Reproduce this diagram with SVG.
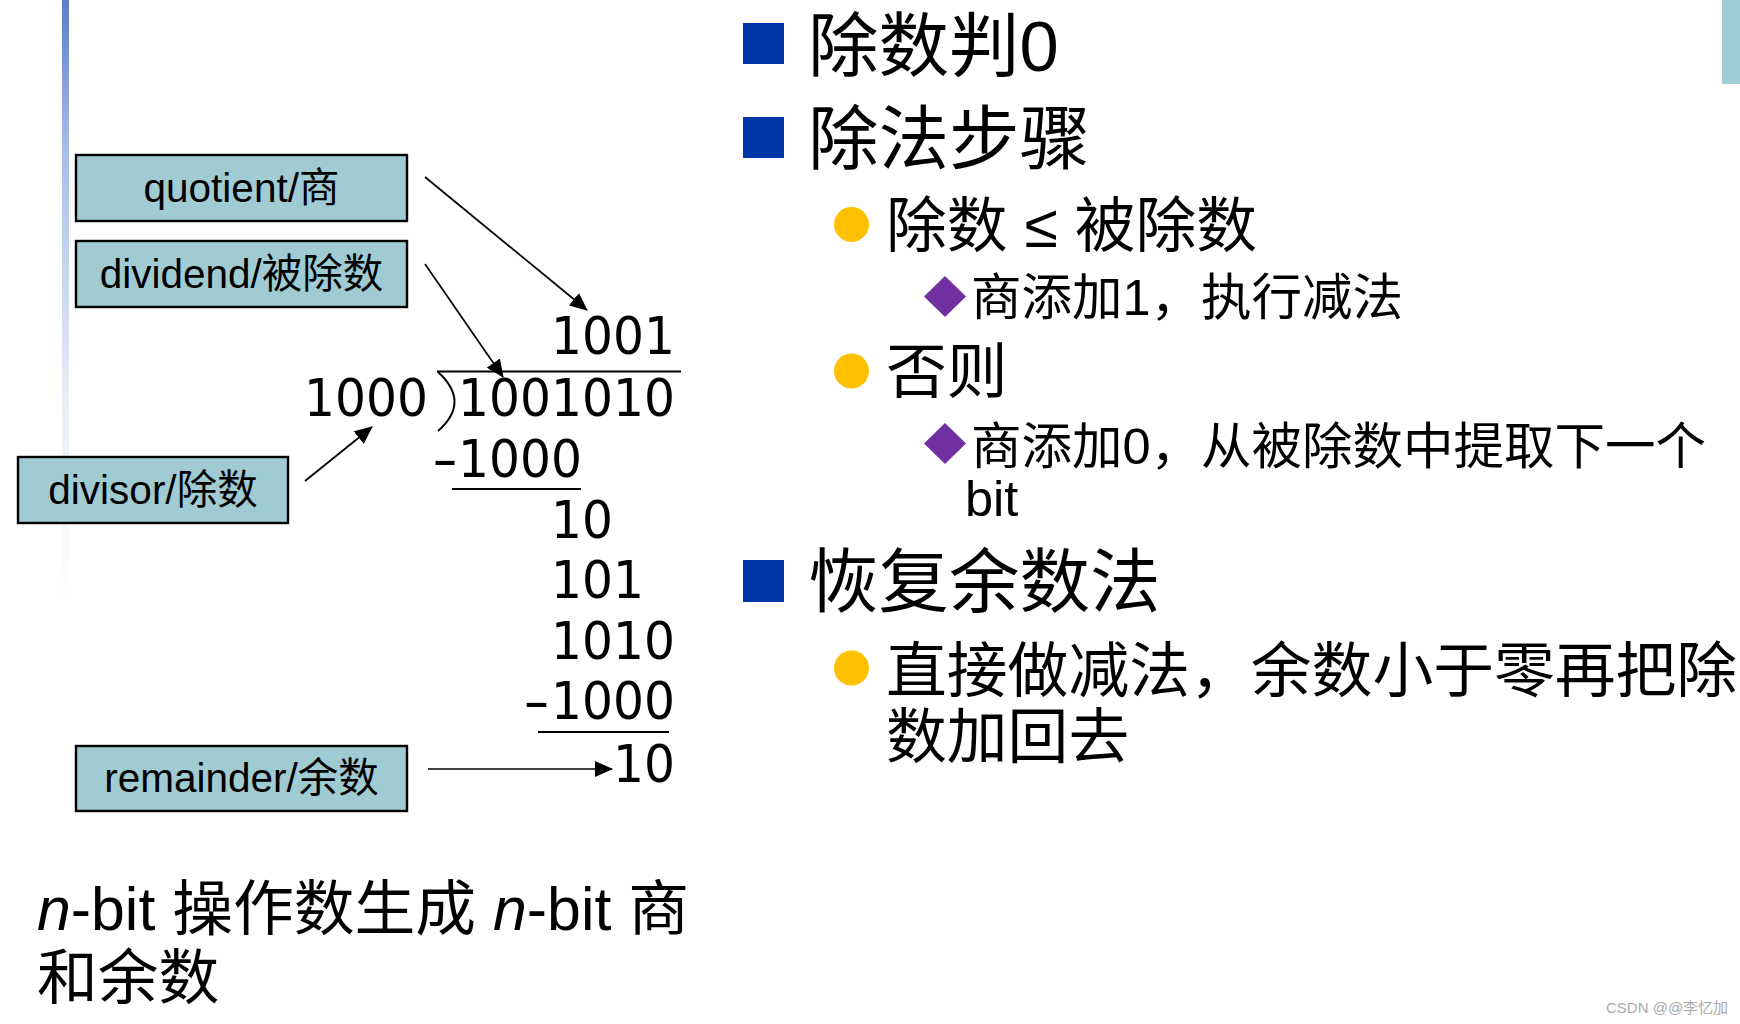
<svg xmlns="http://www.w3.org/2000/svg" width="1740" height="1024" viewBox="0 0 1740 1024">
  <style>
    .box { fill: #a0cbd3; stroke: #000; stroke-width: 2.4; }
    .lbl { font-family: "Liberation Sans", "Noto Sans CJK SC", sans-serif; font-size: 40.5px; fill: #000; text-anchor: middle; }
    .dig { font-family: "DejaVu Sans", sans-serif; font-size: 52px; fill: #000; }
    .rule { stroke: #000; stroke-width: 2; fill: none; }
    .conn { stroke: #000; stroke-width: 1.7; fill: none; marker-end: url(#ah); }
    .t1 { font-family: "Liberation Sans", "Noto Sans CJK SC", sans-serif; font-size: 70.5px; fill: #000; }
    .t2 { font-family: "Liberation Sans", "Noto Sans CJK SC", sans-serif; font-size: 60.8px; fill: #000; }
    .t3 { font-family: "Liberation Sans", "Noto Sans CJK SC", sans-serif; font-size: 50.5px; fill: #000; }
    .sq { fill: #0037a8; }
    .dot { fill: #ffc000; }
    .dia { fill: #7030a0; }
    .note { font-family: "Liberation Sans", "Noto Sans CJK SC", sans-serif; font-size: 60.8px; fill: #000; }
  </style>
  <defs>
    <linearGradient id="barGrad" x1="0" y1="0" x2="0" y2="1">
      <stop offset="0" stop-color="#5a7ecb"/>
      <stop offset="0.25" stop-color="#a8bde6"/>
      <stop offset="0.67" stop-color="#e8eef8"/>
      <stop offset="1" stop-color="#ffffff"/>
    </linearGradient>
    <marker id="ah" markerUnits="userSpaceOnUse" markerWidth="18" markerHeight="16" viewBox="0 0 18 16" refX="17" refY="8" orient="auto">
      <path d="M0,0 L18,8 L0,16 Z" fill="#000"/>
    </marker>
  </defs>

  <rect width="1740" height="1024" fill="#fff"/>
  <rect x="62" y="0" width="7" height="600" fill="url(#barGrad)"/>
  <rect x="1722" y="0" width="18" height="84" fill="#9ecbd4"/>

  <g id="quotient">
    <rect class="box" x="76" y="155" width="331" height="66"/>
    <text class="lbl" x="241.5" y="202">quotient/商</text>
  </g>
  <g id="dividend">
    <rect class="box" x="76" y="241" width="331" height="66"/>
    <text class="lbl" x="241.5" y="288">dividend/被除数</text>
  </g>
  <g id="divisor">
    <rect class="box" x="18" y="457" width="270" height="66"/>
    <text class="lbl" x="153" y="504">divisor/除数</text>
  </g>
  <g id="remainder">
    <rect class="box" x="76" y="746" width="331" height="65"/>
    <text class="lbl" x="241.5" y="792">remainder/余数</text>
  </g>

  <g id="division">
    <text class="dig" x="551" y="354" textLength="124" lengthAdjust="spacingAndGlyphs">1001</text>
    <line class="rule" x1="437" y1="371.5" x2="681" y2="371.5"/>
    <path class="rule" d="M438,372 Q471,402 438,431" stroke-width="1.6"/>
    <text class="dig" x="304" y="416" textLength="124" lengthAdjust="spacingAndGlyphs">1000</text>
    <text class="dig" x="458" y="416" textLength="217" lengthAdjust="spacingAndGlyphs">1001010</text>
    <text class="dig" x="432" y="477" textLength="26" lengthAdjust="spacingAndGlyphs">-</text>
    <text class="dig" x="458" y="477" textLength="124" lengthAdjust="spacingAndGlyphs">1000</text>
    <line class="rule" x1="452" y1="489" x2="581" y2="489"/>
    <text class="dig" x="551" y="538" textLength="62" lengthAdjust="spacingAndGlyphs">10</text>
    <text class="dig" x="551" y="598" textLength="93" lengthAdjust="spacingAndGlyphs">101</text>
    <text class="dig" x="551" y="659" textLength="124" lengthAdjust="spacingAndGlyphs">1010</text>
    <text class="dig" x="523" y="719" textLength="27" lengthAdjust="spacingAndGlyphs">-</text>
    <text class="dig" x="551" y="719" textLength="124" lengthAdjust="spacingAndGlyphs">1000</text>
    <line class="rule" x1="538" y1="732" x2="669" y2="732"/>
    <text class="dig" x="613" y="782" textLength="62" lengthAdjust="spacingAndGlyphs">10</text>
  </g>

  <g id="connectors">
    <line class="conn" x1="425" y1="177" x2="587" y2="310"/>
    <line class="conn" x1="425" y1="264" x2="503" y2="377"/>
    <line class="conn" x1="305" y1="481" x2="372" y2="427"/>
    <line class="conn" x1="428" y1="769" x2="612" y2="769"/>
  </g>

  <g id="note">
    <text class="note" x="37" y="930"><tspan font-style="italic">n</tspan>-bit 操作数生成 <tspan font-style="italic">n</tspan>-bit 商</text>
    <text class="note" x="37" y="999">和余数</text>
  </g>

  <g id="bullets">
    <rect class="sq" x="743" y="23" width="41" height="41"/>
    <text class="t1" x="808" y="71">除数判0</text>
    <rect class="sq" x="743" y="117" width="41" height="41"/>
    <text class="t1" x="808" y="164">除法步骤</text>

    <circle class="dot" cx="851.5" cy="224.5" r="17.5"/>
    <text class="t2" x="886" y="247">除数 ≤ 被除数</text>
    <path class="dia" d="M945,276 L966,296.5 L945,317 L924,296.5 Z"/>
    <text class="t3" x="971" y="315">商添加1，执行减法</text>

    <circle class="dot" cx="851.5" cy="371" r="17.5"/>
    <text class="t2" x="886" y="393">否则</text>
    <path class="dia" d="M945,423 L966,443.5 L945,464 L924,443.5 Z"/>
    <text class="t3" x="971" y="464">商添加0，从被除数中提取下一个</text>
    <text class="t3" x="965" y="516">bit</text>

    <rect class="sq" x="743" y="560" width="41" height="42"/>
    <text class="t1" x="808" y="607">恢复余数法</text>
    <circle class="dot" cx="851.5" cy="668" r="17.5"/>
    <text class="t2" x="886" y="692">直接做减法，余数小于零再把除</text>
    <text class="t2" x="886" y="758">数加回去</text>
  </g>

  <text x="1606" y="1013" font-family="Liberation Sans, Noto Sans CJK SC, sans-serif" font-size="15" fill="#aaaaaa">CSDN @@李忆加</text>
</svg>
